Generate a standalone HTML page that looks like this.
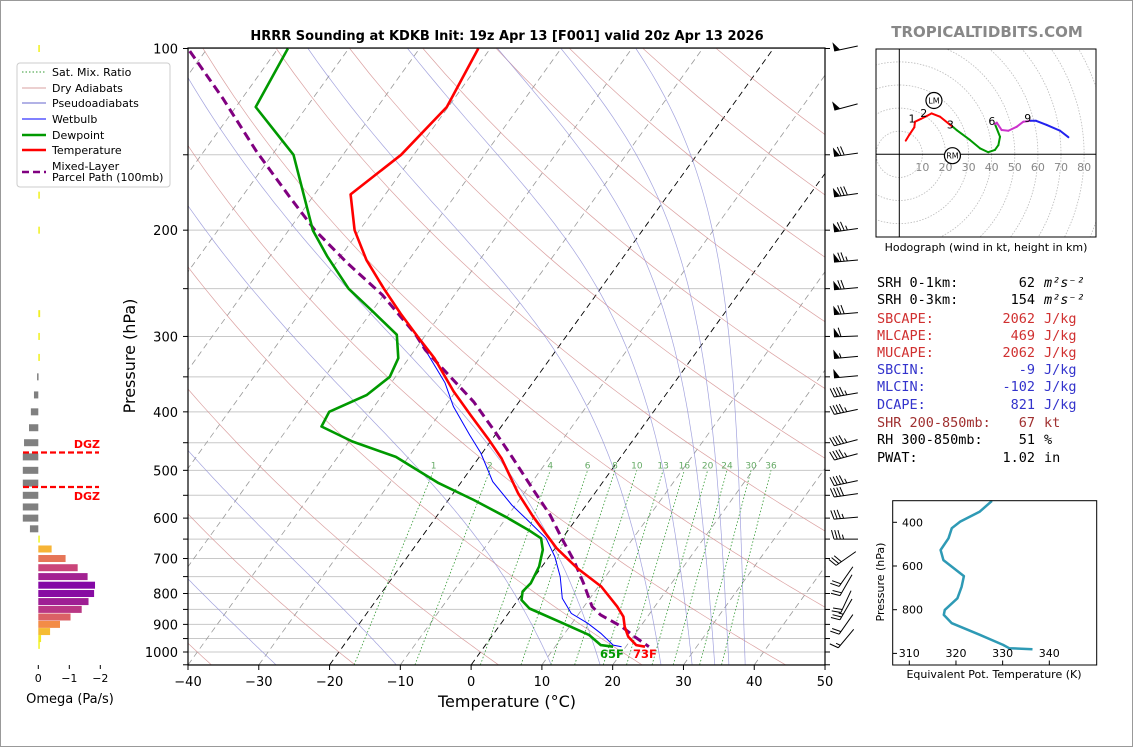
<!DOCTYPE html>
<html><head><meta charset="utf-8">
<style>
html,body{margin:0;padding:0;background:#fff;}
svg{display:block;font-family:"DejaVu Sans","Liberation Sans",sans-serif;}
</style></head>
<body>
<svg id="chart" width="1134" height="748" viewBox="0 0 1134 748" xmlns="http://www.w3.org/2000/svg">
<rect x="0.5" y="0.5" width="1132" height="746" fill="#fff" stroke="#999"/>
<defs><clipPath id="mainClip"><rect x="188" y="48" width="637" height="617"/></clipPath>
<clipPath id="hodoClip"><rect x="876" y="49" width="220" height="188"/></clipPath></defs>
<text x="507" y="40" text-anchor="middle" font-size="13" font-weight="bold">HRRR Sounding at KDKB Init: 19z Apr 13 [F001] valid 20z Apr 13 2026</text>
<text x="987" y="37" text-anchor="middle" font-size="15" font-weight="bold" fill="#888">TROPICALTIDBITS.COM</text>
<g id="bg" clip-path="url(#mainClip)"></g>
<g id="series" clip-path="url(#mainClip)"></g>
<rect x="188" y="48" width="637" height="617" fill="none" stroke="#000" stroke-width="1.2"/>
<g id="axes"></g>
<text x="507" y="707" text-anchor="middle" font-size="16">Temperature (°C)</text>
<text transform="translate(135,356) rotate(-90)" text-anchor="middle" font-size="16">Pressure (hPa)</text>
<text x="600" y="658" font-size="11.5" font-weight="bold" fill="#009900">65F</text>
<text x="633" y="658" font-size="11.5" font-weight="bold" fill="#ff0000">73F</text>
<g id="barbs"></g>
<g id="omega"></g>
<g id="legend">
<rect x="17" y="63" width="153" height="124" rx="3" fill="#fff" stroke="#ccc"/>
</g>
<g id="hodo"></g>
<g id="stats" font-family="'DejaVu Sans Mono','Liberation Mono',monospace" font-size="13.5"></g>
<g id="thetae"></g>
</svg>
<script>
// ---- sounding data ----
var tempP = [100,125,150,174.5,200,224,250,275,300,326,370,405,445,478,546,597,673,727,779,841,874,908,943,974,980];
var tempT = [-61.7,-60.2,-61.8,-64.9,-60.7,-56.0,-50.6,-45.7,-41.0,-36.4,-30.3,-25.5,-20.4,-16.7,-10.8,-6.3,0.2,5.2,10.4,14.7,16.6,17.8,19.3,21.3,22.7];
var dewP = [100,125,150,200,221,250,273,298,326,350,375,400,423,448,475,525,560,597,628,648,677,722,769,794,820,847,896,937,974,980];
var dewT = [-88.6,-87.2,-77.0,-66.6,-61.9,-55.6,-49.8,-44.1,-41.5,-40.8,-42.2,-45.8,-45.4,-39.5,-31.8,-23.1,-16.4,-10.2,-5.6,-3.0,-1.6,-0.4,0.1,-0.2,0.5,2.5,8.7,13.6,16.3,18.2];
var wetP = [100,125,150,174.5,200,224,250,275,300,316,358,392,437,468,522,571,608,648,695,750,815,863,896,931,974,980];
var wetT = [-61.7,-60.2,-61.8,-64.9,-60.7,-56.0,-50.6,-45.7,-41.0,-38.5,-32.4,-28.8,-23.6,-20.2,-15.6,-10.5,-6.4,-2.3,0.8,3.6,6.1,8.9,12.2,15.1,18.05,19.4];
var parcelP = [101,121,148,176,200,227,256,297,316,385,432,475,539,593,652,704,769,841,868,908,943,980];
var parcelT = [-102.2,-92.7,-82.6,-73.3,-66.3,-58.3,-50.2,-41.6,-38.5,-26.4,-20.3,-15.4,-9.0,-4.1,0.2,3.8,7.55,11.15,13.2,17.4,20.2,23.25];
// ---- omega ----
var omegaP = [100,125,150,175,200,225,250,275,300,325,350,375,400,425,450,475,500,525,550,575,600,625,650,675,700,725,750,775,800,825,850,875,900,925,950,975];
var omegaV = [-0.05,-0.08,-0.05,-0.05,-0.05,0,0,-0.06,-0.05,-0.05,0.04,0.14,0.24,0.30,0.46,0.50,0.50,0.50,0.50,0.50,0.50,0.27,-0.03,-0.43,-0.88,-1.27,-1.59,-1.83,-1.80,-1.62,-1.40,-1.04,-0.70,-0.38,-0.09,-0.04];
var omegaTicks = [0,-1,-2];
// ---- winds ----
var barbP = [100,125,150,175,200,225,250,275,300,325,350,375,400,450,475,525,550,600,650,700,750,775,825,850,900,950];
var barbSpd = [50,50,70,80,75,75,70,70,60,55,50,45,45,45,45,45,40,35,35,30,20,20,20,25,20,15];
var barbDir = [258,255,262,262,262,265,265,265,268,265,265,260,258,255,255,258,262,265,270,235,215,210,205,210,215,220];
// ---- hodograph ----
var hodoU = [2.8,4.3,6.5,6.8,9.3,11.9,14,17.6,21.6,23.4,24.8,30.6,34.9,38.5,41.4,42.9,43.6,41.4,42.2,44.3,47.2,50.8,53.7,56.9,59.2,63.8,69.6,73.2];
var hodoV = [5.9,8.4,11.7,14.1,15.3,16.6,17.7,16.3,13.1,11.7,10.5,6.2,2.6,0.9,1.9,4.0,7.6,13.1,13.7,10.5,10.2,11.9,14.1,14.5,14.5,12.7,10.2,7.4];
var hodoH = [0,0.5,0.9,1.0,1.5,2.0,2.2,2.5,2.8,3.0,3.1,3.8,4.3,4.8,5.2,5.5,5.8,6.0,6.0,6.5,7.2,7.8,8.4,9.0,9.0,10,11,12];
var hodoRings = [10,20,30,40,50,60,70,80,90,100];
var hodoLabelKm = [1,2,3,6,9];
var stormNames = ["LM","RM"];
var stormU = [15,23];
var stormV = [23.3,-0.6];
// ---- theta-e ----
var thetaeP = [302,351,397,427,473,527,573,646,695,748,801,824,862,915,961,976,981];
var thetaeV = [327.7,325.1,320.9,319.1,318.4,316.7,317.3,321.7,321.2,320.3,317.6,317.4,319.1,325.1,330.1,331.4,336.4];
var thetaeXTicks = [310,320,330,340];
var thetaeYTicks = [400,600,800,1000];
// ---- axis ticks / grids ----
var xTicks = [-40,-30,-20,-10,0,10,20,30,40,50];
var yTicks = [100,200,300,400,500,600,700,800,900,1000];
var mixRatios = [1,2,4,6,8,10,13,16,20,24,30,36];
var dryThetaC = [-80,-60,-40,-20,0,20,40,60,80,100,120,140,160,180,200];
var moistT1050 = [-27.6,-10.6,11.3,18.2,26.8,31.2,34.4,36.4,38.7];

var NS = "http://www.w3.org/2000/svg";
function mk(tag, attrs, parent){var e=document.createElementNS(NS,tag);for(var k in attrs)e.setAttribute(k,attrs[k]);if(parent)parent.appendChild(e);return e;}
function yP(p){return 652 + 603.5*Math.log10(p/1000);}
function xT(T,p){return 188 + (T+40)*7.078 + (665 - yP(p))*0.72;}
function ptsPath(Ts,Ps){var s="";for(var i=0;i<Ts.length;i++){s+=(i?"L":"M")+xT(Ts[i],Ps[i]).toFixed(1)+","+yP(Ps[i]).toFixed(1);}return s;}

var bg=document.getElementById("bg");
for(var p=100;p<=1050;p+=50){
  var l=mk("line",{x1:188,x2:825,y1:yP(p),y2:yP(p),stroke:"#c8c8c8","stroke-width":1},bg);
  
  
}
for(var T=-130;T<=50;T+=10){
  var l=mk("line",{x1:xT(T,1050),y1:yP(1050),x2:xT(T,100),y2:yP(100),stroke:(T===0||T===-20)?"#000":"#999","stroke-width":(T===0||T===-20)?0.9:0.8,"stroke-dasharray":"6,4"},bg);
  
  
}
dryThetaC.forEach(function(th){
  var d="";for(var p=1050;p>=100;p-=10){var T=(th+273.15)*Math.pow(p/1000,0.2857)-273.15;d+=(p===1050?"M":"L")+xT(T,p).toFixed(1)+","+yP(p).toFixed(1);}
  var e=mk("path",{d:d,fill:"none",stroke:"#d28a8a","stroke-width":0.7,"stroke-opacity":0.8},bg);
  
  
});
function esat(Tc){return 6.112*Math.exp(17.67*Tc/(Tc+243.5));}
function dTdp(Tk,p){var Rd=287.04,Cp=1005.7,Lv=2.501e6,eps=0.622;var rs=eps*esat(Tk-273.15)/(p-esat(Tk-273.15));
  return (Rd*Tk+Lv*rs)/(p*(Cp+Lv*Lv*rs*eps/(Rd*Tk*Tk)));}
moistT1050.forEach(function(t0){
  var Tk=t0+273.15,p=1050,d="M"+xT(t0,1050).toFixed(1)+","+yP(1050).toFixed(1);
  while(p>100){var dp=-5;Tk+=dTdp(Tk,p)*dp;p+=dp;d+="L"+xT(Tk-273.15,p).toFixed(1)+","+yP(p).toFixed(1);}
  var e=mk("path",{d:d,fill:"none",stroke:"#8c8cd6","stroke-width":0.7,"stroke-opacity":0.8},bg);
  
  
});
function tdFromW(w,p){var e=w*p/(622+w);var a=Math.log(e/6.112);return 243.5*a/(17.67-a);}
mixRatios.forEach(function(w){
  var x1=xT(tdFromW(w,1050),1050),x2=xT(tdFromW(w,500),500);
  var e=mk("line",{x1:x1,y1:yP(1050),x2:x2,y2:yP(500),stroke:"#339933","stroke-width":0.8,"stroke-dasharray":"1.5,2"},bg);
  
  
  var t=mk("text",{x:x2,y:yP(500)-2,"text-anchor":"middle","font-size":9,fill:"#66aa66"},bg);t.textContent=w;
  
  
});

var se=document.getElementById("series");
var sWet=mk("path",{d:ptsPath(wetT,wetP),fill:"none",stroke:"#0000ff","stroke-width":1},se);


var sPar=mk("path",{d:ptsPath(parcelT,parcelP),fill:"none",stroke:"#800080","stroke-width":3,"stroke-dasharray":"9,5"},se);


var sDew=mk("path",{d:ptsPath(dewT,dewP),fill:"none",stroke:"#009900","stroke-width":2.6,"stroke-linejoin":"round"},se);


var sTmp=mk("path",{d:ptsPath(tempT,tempP),fill:"none",stroke:"#ff0000","stroke-width":2.6,"stroke-linejoin":"round"},se);



var ax=document.getElementById("axes");
xTicks.forEach(function(t){
  var x=188+(t+40)*7.078;
  mk("line",{x1:x,x2:x,y1:665,y2:670,stroke:"#000"},ax);
  var tx=mk("text",{x:x,y:686,"text-anchor":"middle","font-size":13},ax);tx.textContent=(t<0?"\u2212"+(-t):t);
  
  
});
for(var p=100;p<=1050;p+=50){
  mk("line",{x1:183,x2:188,y1:yP(p),y2:yP(p),stroke:"#000"},ax);
  mk("line",{x1:825,x2:830,y1:yP(p),y2:yP(p),stroke:"#000"},ax);
}
yTicks.forEach(function(p){
  var tx=mk("text",{x:178,y:yP(p)+5,"text-anchor":"end","font-size":13},ax);tx.textContent=p;
  
  
});

var bb=document.getElementById("barbs");
barbP.forEach(function(p,i){
  var spd=barbSpd[i],dir=barbDir[i]*Math.PI/180;
  var u=-spd*Math.sin(dir),v=-spd*Math.cos(dir);
  var n=Math.sqrt(u*u+v*v);var dx=-u/n,dy=v/n;
  var L=24,y=yP(p);
  var loc=[846-dx*L/2,y-dy*L/2],tip=[loc[0]+dx*L,loc[1]+dy*L];
  var px=-dy,py=dx;
  var g=mk("g",{},bb);
  
  
  mk("line",{x1:loc[0],y1:loc[1],x2:tip[0],y2:tip[1],stroke:"#000","stroke-width":1},g);
  var rem=Math.round(spd/5)*5,pos=0;
  while(rem>=50){var a=[tip[0]-dx*pos,tip[1]-dy*pos],b=[tip[0]-dx*(pos+6),tip[1]-dy*(pos+6)];
    mk("polygon",{points:a[0]+","+a[1]+" "+(a[0]+px*9)+","+(a[1]+py*9)+" "+b[0]+","+b[1],fill:"#000"},g);pos+=7;rem-=50;}
  while(rem>=10){var a=[tip[0]-dx*pos,tip[1]-dy*pos];
    mk("line",{x1:a[0],y1:a[1],x2:a[0]+px*9+dx*2.5,y2:a[1]+py*9+dy*2.5,stroke:"#000","stroke-width":1},g);pos+=3.2;rem-=10;}
  if(rem>=5){if(pos===0)pos=3.2;var a=[tip[0]-dx*pos,tip[1]-dy*pos];
    mk("line",{x1:a[0],y1:a[1],x2:a[0]+px*4.5+dx*1.2,y2:a[1]+py*4.5+dy*1.2,stroke:"#000","stroke-width":1},g);}
});

var om=document.getElementById("omega");
var plasma=[[13,8,135],[126,3,168],[204,71,120],[248,149,64],[240,249,33]];
function plasmaAt(t){t=Math.max(0,Math.min(1,t));var s=t*4,i=Math.min(3,Math.floor(s)),f=s-i;var a=plasma[i],b=plasma[i+1];
  return "rgb("+Math.round(a[0]+(b[0]-a[0])*f)+","+Math.round(a[1]+(b[1]-a[1])*f)+","+Math.round(a[2]+(b[2]-a[2])*f)+")";}
omegaP.forEach(function(p,i){
  var v=omegaV[i];if(v===0)return;
  var x0=38.3,x1=38.3-v*31;
  var r=mk("rect",{x:Math.min(x0,x1),y:yP(p)-3.5,width:Math.max(1.5,Math.abs(x1-x0)),height:7,fill:v>0?"#808080":plasmaAt(1-0.4*Math.abs(v))},om);
  
  
});
omegaTicks.forEach(function(t){
  var x=38.3-t*31;
  mk("line",{x1:x,x2:x,y1:665,y2:669,stroke:"#000"},om);
  var tx=mk("text",{x:x,y:682,"text-anchor":"middle","font-size":11},om);tx.textContent=(t<0?"\u2212"+(-t):t);
  
  
});
var otl=mk("text",{x:70,y:703,"text-anchor":"middle","font-size":13},om);otl.textContent="Omega (Pa/s)";


[452.5,487].forEach(function(y){mk("line",{x1:23,x2:99,y1:y,y2:y,stroke:"#ff0000","stroke-width":2.2,"stroke-dasharray":"6,3"},om);});
var d1=mk("text",{x:100,y:448,"text-anchor":"end","font-size":11,"font-weight":"bold",fill:"#ff0000"},om);d1.textContent="DGZ";


var d2=mk("text",{x:100,y:500,"text-anchor":"end","font-size":11,"font-weight":"bold",fill:"#ff0000"},om);d2.textContent="DGZ";



var lg=document.getElementById("legend");
var lgItems=[["Sat. Mix. Ratio","#339933",1,"1.5,2",72],["Dry Adiabats","#d9a0a0",1,"",88],["Pseudoadiabats","#9999dd",1.5,"",103],["Wetbulb","#0000ff",1,"",119],["Dewpoint","#009900",2.5,"",135],["Temperature","#ff0000",2.5,"",150]];
lgItems.forEach(function(it){
  mk("line",{x1:22,x2:46,y1:it[4],y2:it[4],stroke:it[1],"stroke-width":it[2],"stroke-dasharray":it[3]},lg);
  var t=mk("text",{x:52,y:it[4]+4,"font-size":11},lg);t.textContent=it[0];
  
  
});
mk("line",{x1:22,x2:46,y1:172,y2:172,stroke:"#800080","stroke-width":2.5,"stroke-dasharray":"7,4"},lg);
var lt1=mk("text",{x:52,y:170,"font-size":11},lg);lt1.textContent="Mixed-Layer";


var lt2=mk("text",{x:52,y:181,"font-size":11},lg);lt2.textContent="Parcel Path (100mb)";



var hd=document.getElementById("hodo");
function hx(u){return 899.3+u*2.31;}function hy(v){return 154.3-v*2.31;}
var hc=mk("g",{"clip-path":"url(#hodoClip)"},hd);
hodoRings.forEach(function(r){
  var c=mk("circle",{cx:hx(0),cy:hy(0),r:r*2.31,fill:"none",stroke:"#bbb","stroke-width":0.8,"stroke-dasharray":"1.5,1.5"},hc);
  
  
  if(r<=80){var t=mk("text",{x:hx(r),y:171,"text-anchor":"middle","font-size":11,fill:"#888"},hc);t.textContent=r;
  
  }
});
mk("line",{x1:876,x2:1096,y1:hy(0),y2:hy(0),stroke:"#000","stroke-width":1},hc);
mk("line",{x1:hx(0),x2:hx(0),y1:49,y2:237,stroke:"#000","stroke-width":1},hc);
for(var i=0;i<hodoU.length-1;i++){
  var h=(hodoH[i]+hodoH[i+1])/2;var col=h<3?"#ff0000":h<6?"#009900":h<9?"#cc33cc":"#2222ee";
  var s=mk("line",{x1:hx(hodoU[i]),y1:hy(hodoV[i]),x2:hx(hodoU[i+1]),y2:hy(hodoV[i+1]),stroke:col,"stroke-width":2,"stroke-linecap":"round"},hc);
  
  
}
hodoLabelKm.forEach(function(km){
  var j=0;while(j<hodoH.length-1&&hodoH[j]<km)j++;
  var t=mk("text",{x:hx(hodoU[j])-3,y:hy(hodoV[j])+1,"text-anchor":"middle","font-size":11},hc);t.textContent=km;
  
  
});
stormNames.forEach(function(nm,i){
  var c=mk("circle",{cx:hx(stormU[i]),cy:hy(stormV[i]),r:8,fill:"#fff",stroke:"#000","stroke-width":1.2},hc);
  
  
  var t=mk("text",{x:hx(stormU[i]),y:hy(stormV[i])+3,"text-anchor":"middle","font-size":8},hc);t.textContent=nm;
  
  
});
mk("rect",{x:876,y:49,width:220,height:188,fill:"none",stroke:"#000","stroke-width":1},hd);
var hcap=mk("text",{x:986,y:251,"text-anchor":"middle","font-size":11},hd);hcap.textContent="Hodograph (wind in kt, height in km)";



var st=document.getElementById("stats");
var statLabels=["SRH 0-1km:","SRH 0-3km:","SBCAPE:","MLCAPE:","MUCAPE:","SBCIN:","MLCIN:","DCAPE:","SHR 200-850mb:","RH 300-850mb:","PWAT:"];
var statValues=["62","154","2062","469","2062","-9","-102","821","67","51","1.02"];
var statUnits=["m²s⁻²","m²s⁻²","J/kg","J/kg","J/kg","J/kg","J/kg","J/kg","kt","%","in"];
var statColors=["#000","#000","#d03030","#d03030","#d03030","#3333cc","#3333cc","#3333cc","#a03030","#000","#000"];
var statY=[287,304,323,340,357,374,391,409,427,444,462];
statLabels.forEach(function(lb,i){
  var a=mk("text",{x:877,y:statY[i],fill:statColors[i]},st);a.textContent=lb;
  
  
  var b=mk("text",{x:1035,y:statY[i],fill:statColors[i],"text-anchor":"end"},st);b.textContent=statValues[i];
  
  
  var c=mk("text",{x:1044,y:statY[i],fill:statColors[i],"font-style":i<2?"italic":"normal"},st);c.textContent=statUnits[i];
  
  
});

var te=document.getElementById("thetae");
function tex(v){return 909.3+(v-310)*4.667;}function tey(p){return 522.3+(p-400)*43.7/200;}
var ted="";thetaeP.forEach(function(p,i){ted+=(i?"L":"M")+tex(thetaeV[i]).toFixed(1)+","+tey(p).toFixed(1);});
var tl=mk("path",{d:ted,fill:"none",stroke:"#2e9ab5","stroke-width":2.5,"stroke-linejoin":"round"},te);


mk("rect",{x:892.7,y:500.7,width:204,height:164.3,fill:"none",stroke:"#000","stroke-width":1},te);
thetaeYTicks.forEach(function(p){
  mk("line",{x1:892.7,x2:897,y1:tey(p),y2:tey(p),stroke:"#000"},te);
  if(p<1000){var t=mk("text",{x:902,y:tey(p)+4,"font-size":11},te);t.textContent=p;
  
  }
});
thetaeXTicks.forEach(function(v){
  mk("line",{x1:tex(v),x2:tex(v),y1:665,y2:660.5,stroke:"#000"},te);
  var t=mk("text",{x:tex(v),y:657,"text-anchor":"middle","font-size":11},te);t.textContent=v;
  
  
});
var tyl=mk("text",{transform:"translate(884,582) rotate(-90)","text-anchor":"middle","font-size":11},te);tyl.textContent="Pressure (hPa)";


var txl=mk("text",{x:994,y:678,"text-anchor":"middle","font-size":11},te);txl.textContent="Equivalent Pot. Temperature (K)";


</script>
</body></html>
